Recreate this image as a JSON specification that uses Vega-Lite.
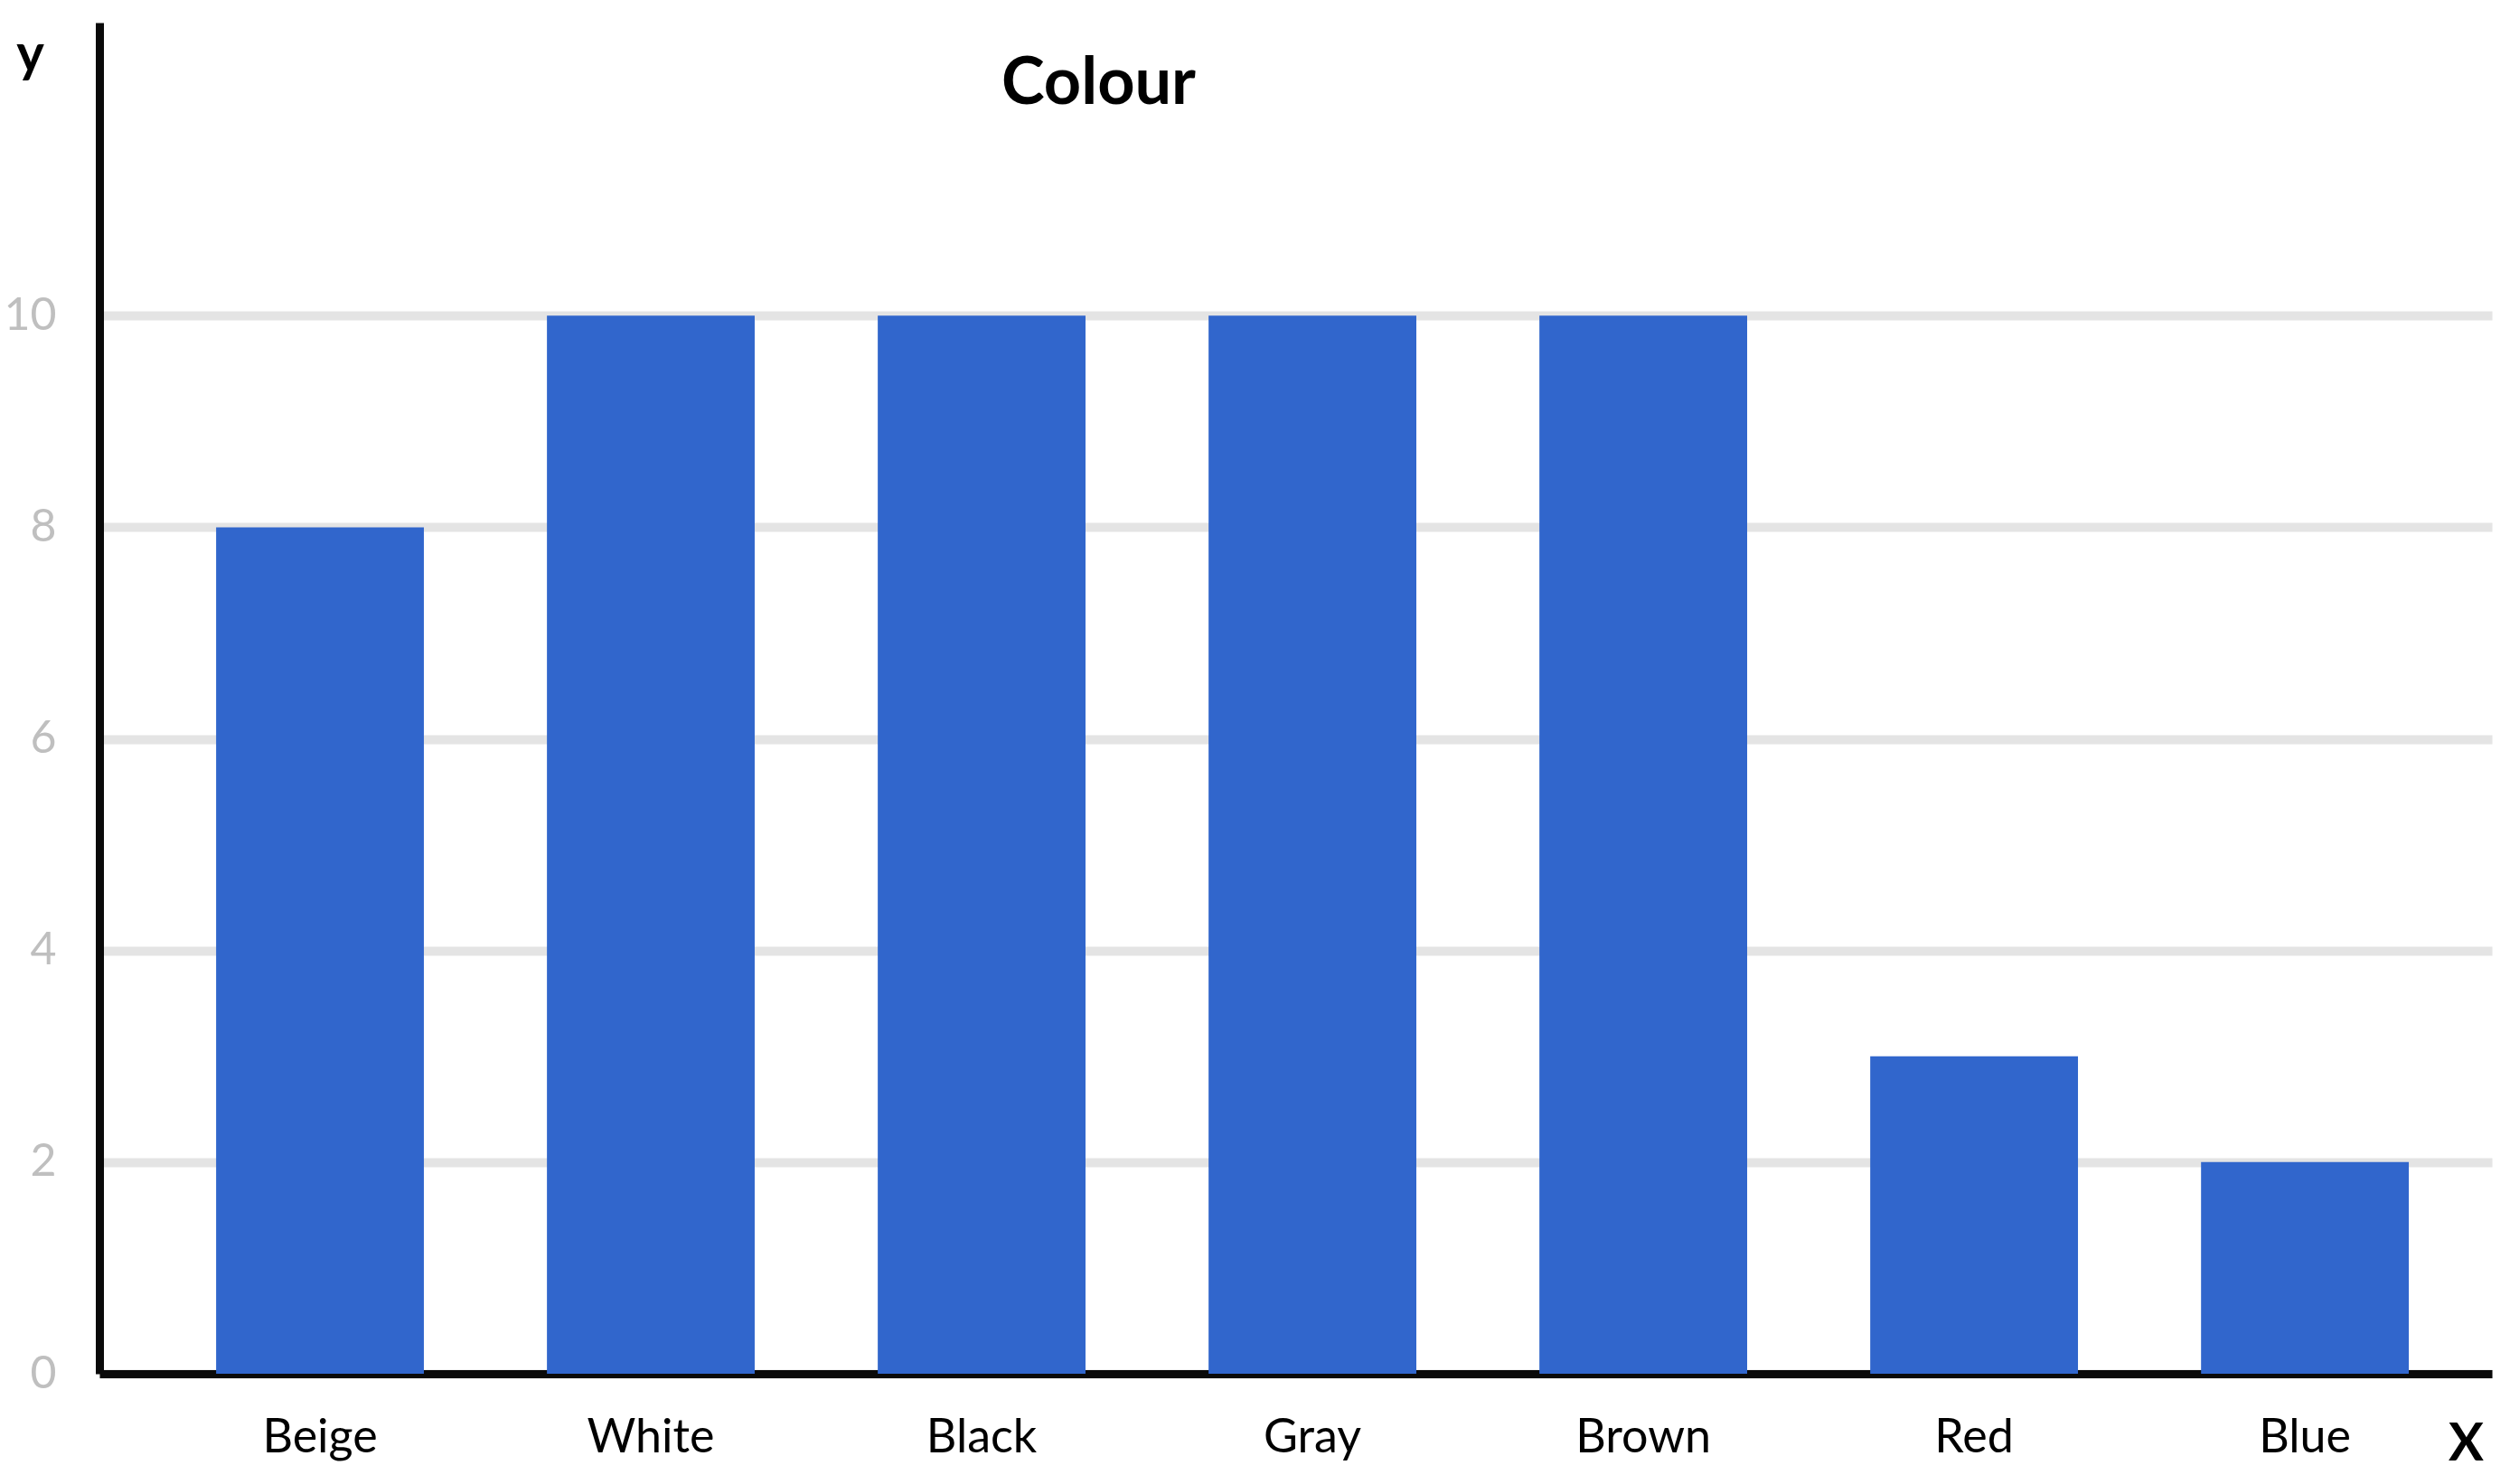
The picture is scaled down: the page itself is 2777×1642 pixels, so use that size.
{
  "$schema": "https://vega.github.io/schema/vega-lite/v6.json",
  "autosize": "none",
  "width": 2647,
  "height": 1495,
  "padding": {"left": 110, "top": 25, "right": 20, "bottom": 122},
  "background": "white",
  "title": {
    "text": "Colour",
    "anchor": "start",
    "frame": "group",
    "dx": 998,
    "dy": 162,
    "offset": 0,
    "baseline": "alphabetic",
    "font": "Lato",
    "fontSize": 72,
    "fontWeight": "bold",
    "color": "#000000"
  },
  "data": {
    "values": [
      {"colour": "Beige", "count": 8},
      {"colour": "White", "count": 10},
      {"colour": "Black", "count": 10},
      {"colour": "Gray", "count": 10},
      {"colour": "Brown", "count": 10},
      {"colour": "Red", "count": 3},
      {"colour": "Blue", "count": 2}
    ]
  },
  "mark": {"type": "bar", "color": "#3166cc"},
  "encoding": {
    "x": {
      "field": "colour",
      "type": "nominal",
      "sort": null,
      "scale": {"paddingInner": 0.372, "paddingOuter": 0.302, "align": 0.584},
      "axis": {
        "title": "X",
        "titleFont": "Lato",
        "titleFontSize": 58,
        "titleFontWeight": "bold",
        "titleColor": "#000000",
        "titleAngle": 0,
        "titleX": 2618,
        "titleY": 95,
        "titleAlign": "center",
        "titleBaseline": "alphabetic",
        "labelFont": "Lato",
        "labelFontSize": 52,
        "labelColor": "#000000",
        "labelAngle": 0,
        "labelPadding": 45,
        "ticks": false,
        "tickSize": 0,
        "domainColor": "#0a0a0a",
        "domainWidth": 9,
        "grid": false
      }
    },
    "y": {
      "field": "count",
      "type": "quantitative",
      "scale": {"domain": [0, 12.77], "nice": false},
      "axis": {
        "values": [0, 2, 4, 6, 8, 10],
        "title": "y",
        "titleFont": "Lato",
        "titleFontSize": 58,
        "titleFontWeight": "bold",
        "titleColor": "#000000",
        "titleAngle": 0,
        "titleX": -77,
        "titleY": 53,
        "titleAlign": "center",
        "titleBaseline": "alphabetic",
        "labelFont": "Lato",
        "labelFontSize": 50,
        "labelColor": "#bfbfbf",
        "labelPadding": 48,
        "ticks": false,
        "tickSize": 0,
        "domainColor": "#0a0a0a",
        "domainWidth": 9,
        "grid": true,
        "gridColor": "#e4e4e4",
        "gridWidth": 10
      }
    }
  },
  "config": {"view": {"stroke": null}}
}
